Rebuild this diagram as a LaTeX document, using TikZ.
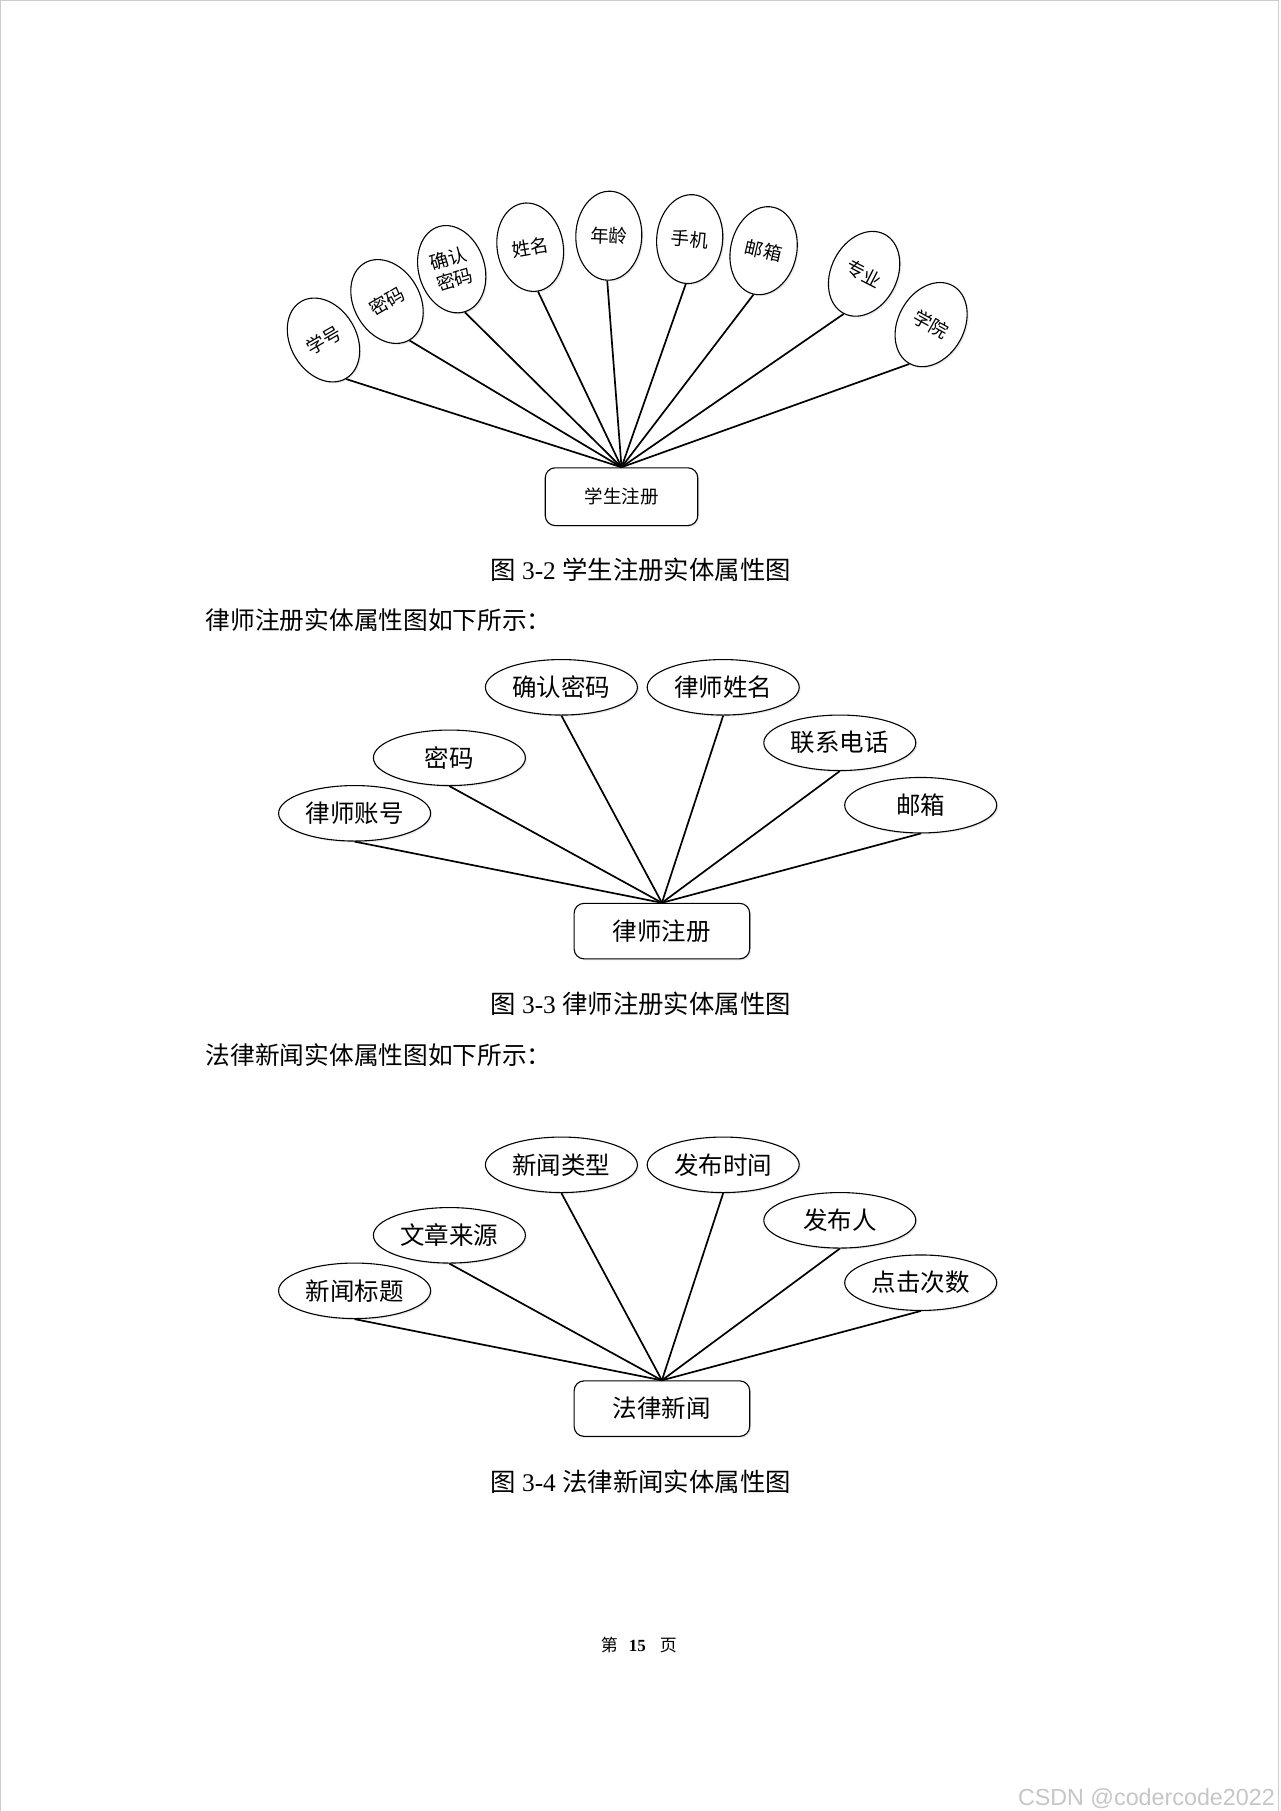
\documentclass[tikz,border=0pt]{standalone}
\usepackage{fontspec}
\setmainfont{Liberation Serif}
\newfontfamily\cjk{Noto Sans CJK SC}
\newfontfamily\wmfont{Liberation Sans}
\usetikzlibrary{shapes.geometric,shadows}

\begin{document}
\begin{tikzpicture}[x=1pt,y=-1pt,
  shad/.style={drop shadow={shadow xshift=1.5pt,shadow yshift=-1.5pt,opacity=0.12,fill=blue!40!gray}},
  attrA/.style={ellipse,draw,line width=1.1pt,fill=white,shad,minimum width=66pt,minimum height=89pt,
    inner sep=0pt,align=center,font=\cjk\fontsize{18.5}{22}\selectfont},
  attrB/.style={ellipse,draw,line width=1.1pt,fill=white,shad,minimum width=152pt,minimum height=55.5pt,
    inner sep=0pt,font=\cjk\fontsize{24.5}{28}\selectfont},
  entA/.style={draw,rounded corners=10pt,line width=1.1pt,fill=white,shad,minimum width=152.5pt,minimum height=57.8pt,
    inner sep=0pt,font=\cjk\fontsize{18.5}{22}\selectfont},
  entB/.style={draw,rounded corners=10pt,line width=1.1pt,fill=white,shad,minimum width=175.6pt,minimum height=55.5pt,
    inner sep=0pt,font=\cjk\fontsize{24.5}{28}\selectfont},
  conn/.style={line width=1.7pt},
  capt/.style={inner sep=0pt,font=\fontsize{25.4}{30}\selectfont},
  bodytxt/.style={inner sep=0pt,anchor=west,font=\cjk\fontsize{24.7}{30}\selectfont}]

\useasboundingbox (0,0) rectangle (1280,1811);
\fill[white] (0,0) rectangle (1280,1811);
\draw[gray!40,line width=1.3pt] (0.7,1811) -- (0.7,0.7) -- (1278.6,0.7) -- (1278.6,1811);

% ---------- Diagram 1 ----------
\node[entA] (e1) at (621.5,496.7) {学生注册};
\node[attrA,rotate=30]  (a1) at (323.5,340)   {学号};
\node[attrA,rotate=30]  (a2) at (387,301.5)   {密码};
\node[attrA,rotate=17]  (a3) at (451.7,269.2) {确认\\密码};
\node[attrA,rotate=10]  (a4) at (530.2,247.2) {姓名};
\node[attrA,rotate=-2]  (a5) at (608.8,235.7) {年龄};
\node[attrA,rotate=-5]  (a6) at (689.7,239.1) {手机};
\node[attrA,rotate=-13] (a7) at (763.6,250.7) {邮箱};
\node[attrA,rotate=-27] (a8) at (864.1,273.8) {专业};
\node[attrA,rotate=-29] (a9) at (931.1,324.6) {学院};
\foreach \n in {a1,a2,a3,a4,a5,a6,a7,a8,a9}
  \draw[conn] (e1.north) -- (\n.south);

\node[capt] (cap1) at (640.6,569.5) {{\cjk 图} 3-2 {\cjk 学生注册实体属性图}};
\node[bodytxt] (t1) at (205.6,620.3) {律师注册实体属性图如下所示：};

% ---------- Diagram 2 ----------
\node[entB] (e2) at (661.9,931.1) {律师注册};
\node[attrB] (b1) at (354.6,813.3) {律师账号};
\node[attrB] (b2) at (449.4,757.8) {密码};
\node[attrB] (b3) at (561.4,687.3) {确认密码};
\node[attrB] (b4) at (723.2,687.3) {律师姓名};
\node[attrB] (b5) at (839.8,742.8) {联系电话};
\node[attrB] (b6) at (920.7,805.2) {邮箱};
\foreach \n in {b1,b2,b3,b4,b5,b6}
  \draw[conn] (e2.north) -- (\n.south);

\node[capt] (cap2) at (640.6,1003.9) {{\cjk 图} 3-3 {\cjk 律师注册实体属性图}};
\node[bodytxt] (t2) at (205.6,1054.7) {法律新闻实体属性图如下所示：};

% ---------- Diagram 3 ----------
\node[entB] (e3) at (661.9,1408.6) {法律新闻};
\node[attrB] (c1) at (354.6,1290.8) {新闻标题};
\node[attrB] (c2) at (449.4,1235.3) {文章来源};
\node[attrB] (c3) at (561.4,1164.8) {新闻类型};
\node[attrB] (c4) at (723.2,1164.8) {发布时间};
\node[attrB] (c5) at (839.8,1220.3) {发布人};
\node[attrB] (c6) at (920.7,1282.7) {点击次数};
\foreach \n in {c1,c2,c3,c4,c5,c6}
  \draw[conn] (e3.north) -- (\n.south);

\node[capt] (cap3) at (640.6,1482.1) {{\cjk 图} 3-4 {\cjk 法律新闻实体属性图}};

% ---------- footer ----------
\node[inner sep=0pt,font=\fontsize{17}{20}\selectfont] (pg) at (638.8,1645)
  {{\cjk 第}\hspace{11pt}\textbf{15}\hspace{14pt}{\cjk 页}};
\node[inner sep=0pt,anchor=base east,text=gray!45,font=\wmfont\fontsize{23.3}{26}\selectfont] (wm) at (1275,1805)
  {CSDN @codercode2022};
\end{tikzpicture}
\end{document}
